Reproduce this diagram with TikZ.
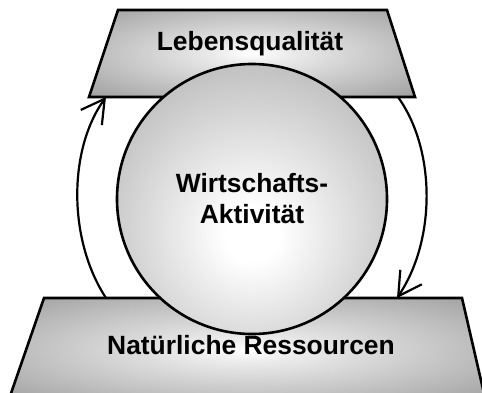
\documentclass[tikz,border=0pt]{standalone}
\usepackage{fontspec}
\setmainfont{Liberation Sans}
\usetikzlibrary{arrows.meta}
\pgfdeclareradialshading{ballglow}{\pgfpoint{0bp}{-7bp}}{color(0bp)=(white); color(5bp)=(white); color(50bp)=(black!44); color(100bp)=(black!44)}
\pgfdeclareradialshading{plateglow}{\pgfpoint{0bp}{0bp}}{color(0bp)=(white); color(6bp)=(white!92!black); color(40bp)=(black!42); color(100bp)=(black!42)}
\tikzset{
  plate/.style={draw=black, line width=2.6pt, shade, shading=plateglow, line join=miter},
  ball/.style={circle, draw=black, line width=2.6pt, shade, shading=ballglow,
               minimum size=270pt, inner sep=0pt, align=center},
  caption/.style={inner sep=0pt, anchor=base},
  flow/.style={draw=black, line width=2.2pt,
               -{Straight Barb[length=23pt, width=26pt, line width=2.2pt]}},
}

\begin{document}
\begin{tikzpicture}[x=1pt, y=-1pt,
  every node/.style={font=\fontsize{26.4}{31}\selectfont\bfseries}]
  \useasboundingbox (0,0) rectangle (482,392);
  \clip (0,0) rectangle (482,392);

  % the two plates
  \path[plate] (118,10) -- (387,10) -- (415,97) -- (89,97) -- cycle;
  \path[plate] (44,298) -- (462,298) -- (486,402) -- (8,402) -- cycle;

  \node[ball] (wa) at (252,199) {Wirtschafts-\\Aktivit\"at};

  \node[caption] (lq) at (250,50) {Lebensqualit\"at};
  \node[caption] (nr) at (251,354) {Nat\"urliche Ressourcen};

  \coordinate (lqL) at (106,97);
  \coordinate (lqR) at (398,97);
  \coordinate (nrL) at (106,298);
  \coordinate (nrR) at (397,298);

  \draw[flow] (nrL) .. controls (68,240) and (68,150) .. (lqL);
  \draw[flow] (lqR) .. controls (436,150) and (436,240) .. (nrR);
\end{tikzpicture}
\end{document}
